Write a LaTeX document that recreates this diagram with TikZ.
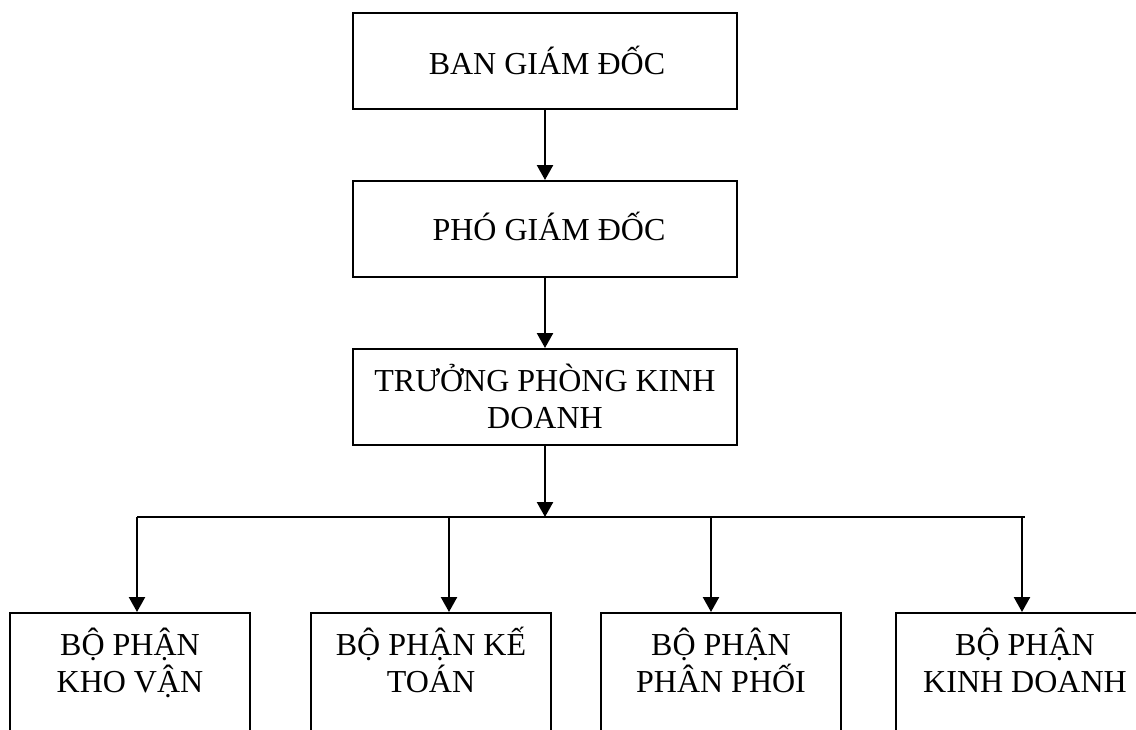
\documentclass[tikz,border=0pt]{standalone}
\usepackage{fontspec}
\setmainfont{Liberation Serif}
\usetikzlibrary{arrows.meta}
\tikzset{
  box/.style={draw=black, line width=2pt, minimum width=384pt, minimum height=96pt, inner sep=0pt},
  lowbox/.style={draw=black, line width=2pt, minimum height=240pt, inner sep=0pt},
  txt/.style={font=\fontsize{32}{37}\selectfont, align=center, anchor=base, inner sep=0pt},
  arr/.style={line width=2.4pt, -{Triangle[length=15pt,width=16pt]}},
  ln/.style={line width=2pt}
}
\begin{document}
\begin{tikzpicture}[x=1pt,y=-1pt]
\clip (0,0) rectangle (1136,729);
\useasboundingbox (0,0) rectangle (1136,729);
\fill[white] (0,0) rectangle (1136,729);
% top chain
\node[box] (b1) at (545,61) {};
\node[box] (b2) at (545,229) {};
\node[box] (b3) at (545,397) {};
\node[txt] (t1) at (547,74) {BAN GIÁM ĐỐC};
\node[txt] (t2) at (549,240) {PHÓ GIÁM ĐỐC};
\node[txt] (t3) at (545,428) {TRƯỞNG PHÒNG KINH\\DOANH};
% bottom boxes (cut at the bottom edge)
\node[lowbox, minimum width=240pt] (k1) at (130,733) {};
\node[lowbox, minimum width=240pt] (k2) at (431,733) {};
\node[lowbox, minimum width=240pt] (k3) at (721,733) {};
\node[lowbox, minimum width=270pt] (k4) at (1031,733) {};
\node[txt] (u1) at (130,692) {BỘ PHẬN\\KHO VẬN};
\node[txt] (u2) at (431,692) {BỘ PHẬN KẾ\\TOÁN};
\node[txt] (u3) at (721,692) {BỘ PHẬN\\PHÂN PHỐI};
\node[txt] (u4) at (1025,692) {BỘ PHẬN\\KINH DOANH};
% connectors
\draw[arr] (b1.south) -- (b2.north);
\draw[arr] (b2.south) -- (b3.north);
\coordinate (j) at (545,517);
\coordinate (a1) at (137,517);
\coordinate (a2) at (449,517);
\coordinate (a3) at (711,517);
\coordinate (a4) at (1022,517);
\coordinate (e) at (1025,517);
\draw[arr] (b3.south) -- (j);
\draw[ln] (a1) -- (e);
\draw[arr] (a1) -- (a1 |- k1.north);
\draw[arr] (a2) -- (a2 |- k2.north);
\draw[arr] (a3) -- (a3 |- k3.north);
\draw[arr] (a4) -- (a4 |- k4.north);
\end{tikzpicture}
\end{document}
